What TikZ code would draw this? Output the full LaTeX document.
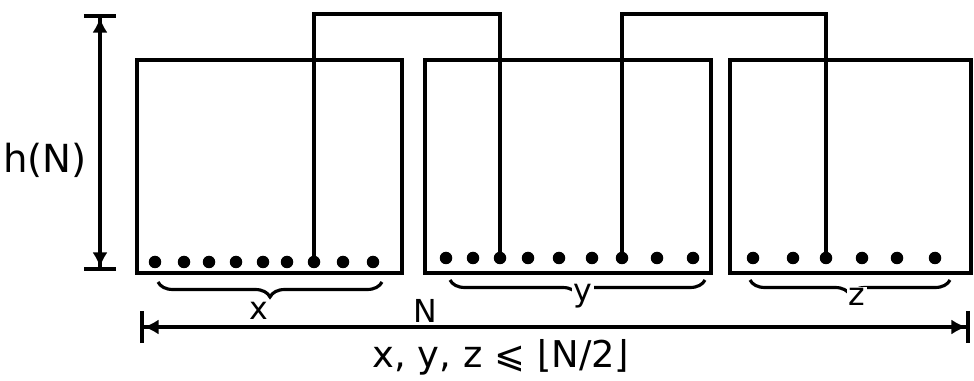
\documentclass[tikz,border=0pt]{standalone}
\usepackage{fontspec}
\setmainfont{DejaVu Sans}
\usetikzlibrary{arrows.meta, decorations.pathreplacing}

\begin{document}
\begin{tikzpicture}[x=0.02cm, y=-0.02cm,
    block/.style={draw, rectangle, line width=2pt, minimum height=4.26cm, inner sep=0pt},
    pin/.style={circle, fill, inner sep=0pt, minimum size=0.25cm},
    wire/.style={line width=2pt},
    dim/.style={line width=2pt, {Bar[width=6.5mm]Latex[length=3mm,width=3mm]}-{Latex[length=3mm,width=3mm]Bar[width=6.5mm]}},
    brc/.style={line width=1.8pt, decorate, decoration={brace, mirror, amplitude=0.3cm}},
    lbl/.style={font=\fontsize{18}{20}\selectfont, inner sep=1pt}]
    \useasboundingbox (0,0) rectangle (974,381);

    % Blocks
    \node[block, minimum width=5.3cm] (box1) at (269.5,166.5) {};
    \node[block, minimum width=5.72cm] (box2) at (568,166.5) {};
    \node[block, minimum width=4.82cm] (box3) at (850.5,166.5) {};

    % Pins along the bottom of each block
    \foreach \x [count=\i] in {155,184,209,236,263,287,314,343,373}
        \node[pin] (a\i) at (\x,262) {};
    \foreach \x [count=\i] in {446,473,500,528,559,592,622,657,693}
        \node[pin] (b\i) at (\x,258) {};
    \foreach \x [count=\i] in {753,793,826,862,897,935}
        \node[pin] (c\i) at (\x,258) {};

    % Wires between blocks
    \coordinate (top) at (0,14);
    \draw[wire] (a7.center) -- (a7 |- top) -| (b3.center);
    \draw[wire] (b7.center) -- (b7 |- top) -| (c3.center);

    % Height
    \coordinate (hTop) at (100,14);
    \coordinate (hBot) at (100,271);
    \draw[dim] (hTop) -- (hBot);
    \node[font=\fontsize{22}{26}\selectfont] (hlabel) at (45,160) {h(N)};

    % Braces
    \draw[brc] (158,282) -- (382,282);
    \node[lbl] (xlabel) at (259,311) {x};
    \draw[brc] (450,280) -- (705,280);
    \node[lbl, fill=white] (ylabel) at (583,296) {y};
    \draw[brc] (750,280) -- (950,280);
    \node[lbl, fill=white] (zlabel) at (857,297) {z};

    % Width
    \coordinate (nL) at (140,327);
    \coordinate (nR) at (970,327);
    \draw[dim] (nL) -- (nR);
    \node[lbl] (nlabel) at (425,311) {N};
    \node[font=\fontsize{21}{24}\selectfont] (bound) at (501,357) {x, y, z ⩽ ⌊N/2⌋};
\end{tikzpicture}
\end{document}
